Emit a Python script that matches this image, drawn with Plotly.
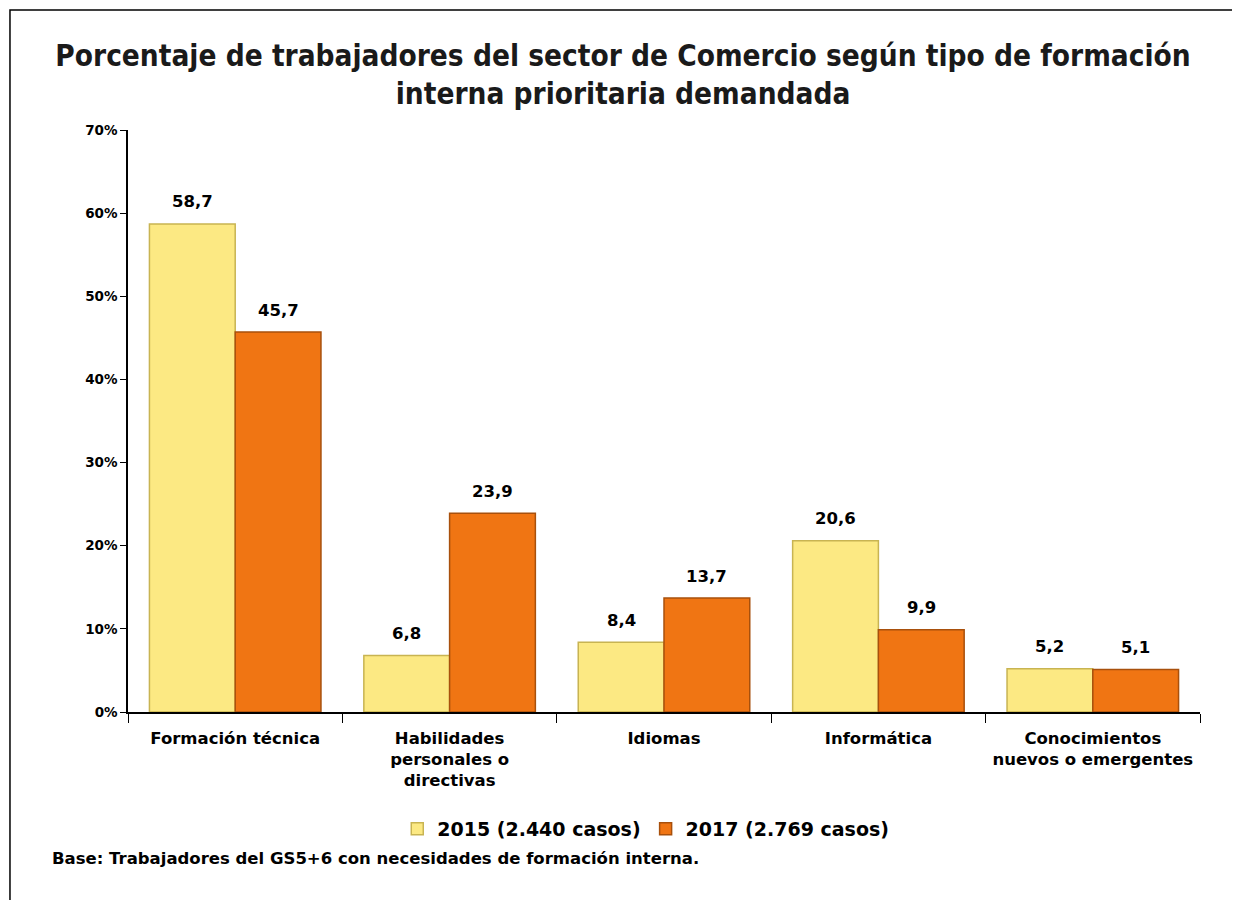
import plotly.graph_objects as go

categories = ["Formación técnica", "Habilidades<br>personales o<br>directivas", "Idiomas",
              "Informática", "Conocimientos<br>nuevos o emergentes"]
series_names = ["2015 (2.440 casos)", "2017 (2.769 casos)"]
values_2015 = [58.7, 6.8, 8.4, 20.6, 5.2]
values_2017 = [45.7, 23.9, 13.7, 9.9, 5.1]
y_ticks = [0, 10, 20, 30, 40, 50, 60, 70]

FONT = "DejaVu Sans"
fig = go.Figure()
fig.add_trace(go.Bar(
    x=categories, y=values_2015, name=f"<b>{series_names[0]}</b>",
    marker=dict(color="#FCE983", line=dict(color="#C8B452", width=1.5)),
    hoverinfo="x+y"))
fig.add_trace(go.Bar(
    x=categories, y=values_2017, name=f"<b>{series_names[1]}</b>",
    marker=dict(color="#F07513", line=dict(color="#A8500C", width=1.5)),
    hoverinfo="x+y"))

# value labels above bars
bar_half = 1072 / len(categories) * 0.8 / 4
for vals, shift in ((values_2015, -bar_half), (values_2017, bar_half)):
    for c, v in zip(categories, vals):
        fig.add_annotation(x=c, y=v, xref="x", yref="y", text=f"<b>{v:.1f}</b>".replace(".", ","),
                           showarrow=False, xshift=shift, yshift=22, yanchor="middle",
                           font=dict(family=FONT, size=16.5, color="black"))

fig.update_layout(
    width=1240, height=900,
    separators=",.",
    paper_bgcolor="white", plot_bgcolor="white",
    margin=dict(l=120, r=48, t=122, b=196),
    barmode="group", bargap=0.2, bargroupgap=0,
    title=dict(text="<b>Porcentaje de trabajadores del sector de Comercio según tipo de formación<br>interna prioritaria demandada</b>",
               x=0.496, xanchor="center", y=0.936, yanchor="middle",
               font=dict(family="DejaVu Sans Condensed", size=29.5, color="#1a1a1a")),
    font=dict(family=FONT, color="black"),
    legend=dict(orientation="h", x=0.483, xanchor="center", y=-0.201, yanchor="middle",
                font=dict(family=FONT, size=19, color="black"),
                itemwidth=30, traceorder="normal"),
    showlegend=True,
)
fig.update_xaxes(showline=True, linecolor="black", linewidth=1.5,
                 ticks="outside", tickson="boundaries", ticklen=9, tickcolor="black",
                 ticklabelstandoff=10, tickangle=0, automargin=False,
                 tickfont=dict(family=FONT, size=16.5, color="black"),
                 tickprefix="<b>", ticksuffix="</b>")
fig.update_yaxes(range=[0, 70], tickvals=y_ticks,
                 ticktext=[f"<b>{v}%</b>" for v in y_ticks],
                 showline=True, linecolor="black", linewidth=1.5,
                 ticks="outside", ticklen=6, tickcolor="black",
                 showgrid=False, zeroline=False, automargin=False,
                 tickfont=dict(family=FONT, size=13.5, color="black"))

fig.add_annotation(text="<b>Base: Trabajadores del GS5+6 con necesidades de formación interna.</b>",
                   xref="paper", yref="paper", x=-0.0728, y=-0.251,
                   xanchor="left", yanchor="middle", showarrow=False,
                   font=dict(family=FONT, size=16.5, color="black"))
fig.add_shape(type="rect", xref="paper", yref="paper",
              x0=-0.1101, x1=1.06, y0=-0.36, y1=1.2062,
              line=dict(color="black", width=1.5), fillcolor="rgba(0,0,0,0)", layer="below")

fig.write_html("out.html")
